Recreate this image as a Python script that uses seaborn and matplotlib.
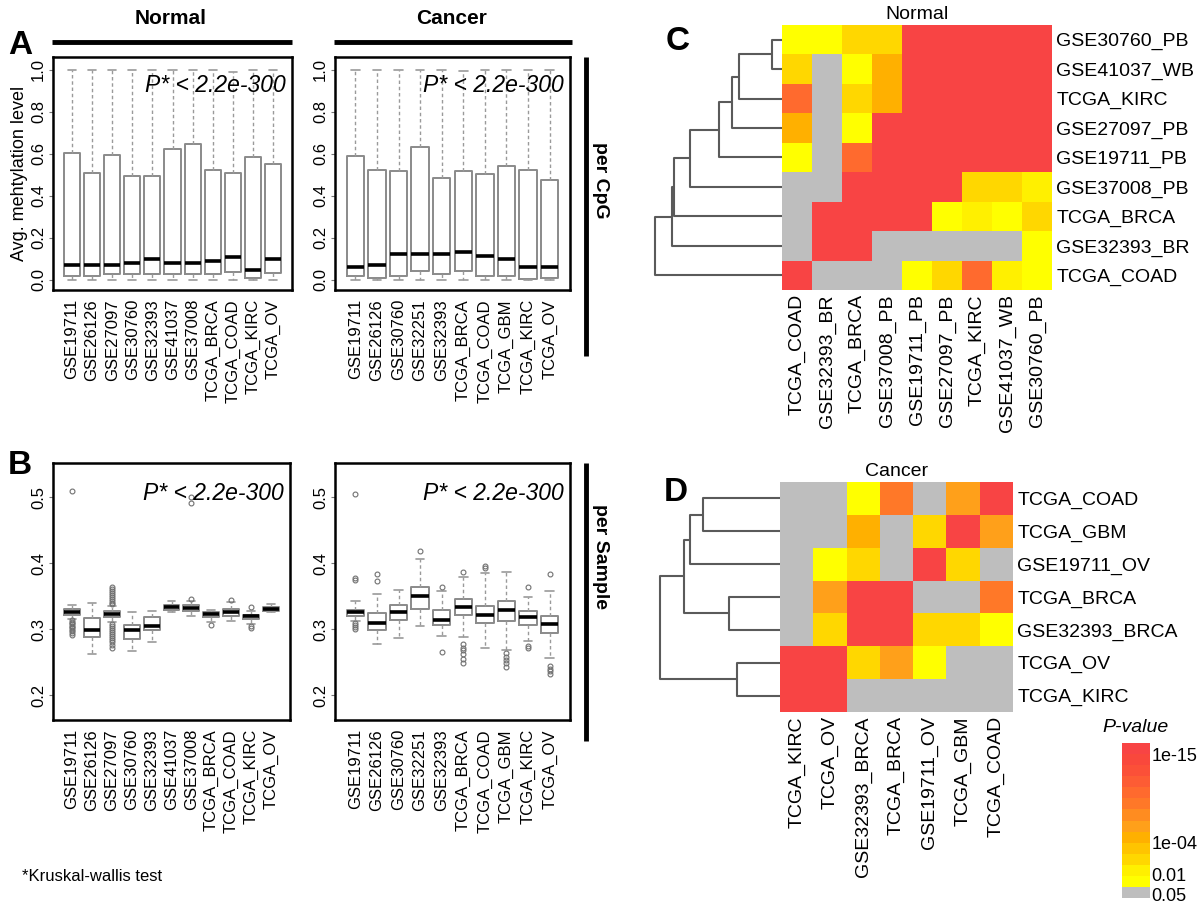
import numpy as np
import pandas as pd
import matplotlib
matplotlib.use('Agg')
import matplotlib.pyplot as plt
import seaborn as sns
from matplotlib.colors import ListedColormap, BoundaryNorm
from matplotlib.cm import ScalarMappable
from matplotlib.lines import Line2D

sns.set_style('white')
plt.rcParams['font.family'] = ['Liberation Sans', 'DejaVu Sans']
for k in ('text.color', 'axes.labelcolor', 'xtick.color', 'ytick.color'):
    plt.rcParams[k] = 'black'

# ---------------- data ----------------
# panel A: per CpG methylation, box stats
a_norm_sets = ['GSE19711', 'GSE26126', 'GSE27097', 'GSE30760', 'GSE32393', 'GSE41037',
               'GSE37008', 'TCGA_BRCA', 'TCGA_COAD', 'TCGA_KIRC', 'TCGA_OV']
a_norm_lo = [0.0, 0.0, 0.0, 0.0, 0.0, 0.0, 0.0, 0.0, 0.0, 0.0, 0.0]
a_norm_q1 = [0.016, 0.016, 0.024, 0.024, 0.024, 0.024, 0.024, 0.024, 0.035, 0.005, 0.032]
a_norm_med = [0.067, 0.067, 0.067, 0.080, 0.096, 0.077, 0.077, 0.088, 0.107, 0.046, 0.096]
a_norm_q3 = [0.603, 0.509, 0.592, 0.491, 0.491, 0.624, 0.646, 0.520, 0.509, 0.584, 0.552]
a_norm_hi = [1.0, 1.0, 1.0, 1.0, 1.0, 1.0, 1.0, 1.0, 0.99, 1.0, 1.0]

a_canc_sets = ['GSE19711', 'GSE26126', 'GSE30760', 'GSE32251', 'GSE32393', 'TCGA_BRCA',
               'TCGA_COAD', 'TCGA_GBM', 'TCGA_KIRC', 'TCGA_OV']
a_canc_lo = [0.0, 0.0, 0.0, 0.0, 0.0, 0.0, 0.0, 0.0, 0.0, 0.0]
a_canc_q1 = [0.016, 0.005, 0.016, 0.040, 0.024, 0.040, 0.016, 0.016, 0.002, 0.005]
a_canc_med = [0.059, 0.068, 0.122, 0.122, 0.122, 0.132, 0.111, 0.098, 0.059, 0.059]
a_canc_q3 = [0.587, 0.524, 0.516, 0.630, 0.484, 0.516, 0.505, 0.540, 0.524, 0.476]
a_canc_hi = [1.0, 1.0, 1.0, 1.0, 1.0, 0.995, 1.0, 1.0, 1.0, 1.0]

# panel B: per sample
b_norm_lo = [0.315, 0.262, 0.310, 0.267, 0.280, 0.326, 0.320, 0.311, 0.312, 0.308, 0.326]
b_norm_q1 = [0.321, 0.288, 0.318, 0.285, 0.298, 0.329, 0.327, 0.318, 0.320, 0.315, 0.327]
b_norm_med = [0.326, 0.298, 0.323, 0.298, 0.305, 0.333, 0.332, 0.323, 0.326, 0.320, 0.330]
b_norm_q3 = [0.330, 0.317, 0.327, 0.306, 0.318, 0.336, 0.336, 0.326, 0.330, 0.321, 0.333]
b_norm_hi = [0.336, 0.339, 0.335, 0.326, 0.327, 0.342, 0.342, 0.329, 0.341, 0.328, 0.338]
b_norm_out = [
    [0.510, 0.313, 0.311, 0.309, 0.307, 0.305, 0.303, 0.301, 0.299, 0.297, 0.294, 0.291],
    [],
    [0.364, 0.361, 0.358, 0.355, 0.352, 0.349, 0.346, 0.343, 0.340, 0.338,
     0.307, 0.304, 0.301, 0.298, 0.295, 0.292, 0.289, 0.286, 0.283, 0.280, 0.276, 0.272],
    [],
    [],
    [],
    [0.500, 0.492, 0.346],
    [0.306],
    [0.344],
    [0.334, 0.304, 0.302],
    [],
]

b_canc_lo = [0.312, 0.277, 0.286, 0.305, 0.289, 0.288, 0.271, 0.268, 0.282, 0.256]
b_canc_q1 = [0.320, 0.298, 0.314, 0.330, 0.306, 0.321, 0.309, 0.312, 0.306, 0.294]
b_canc_med = [0.326, 0.309, 0.326, 0.350, 0.314, 0.333, 0.321, 0.329, 0.318, 0.308]
b_canc_q3 = [0.329, 0.324, 0.336, 0.364, 0.329, 0.345, 0.335, 0.342, 0.327, 0.320]
b_canc_hi = [0.342, 0.353, 0.359, 0.406, 0.358, 0.379, 0.385, 0.386, 0.348, 0.358]
b_canc_out = [
    [0.505, 0.378, 0.374, 0.309, 0.306, 0.303, 0.300],
    [0.384, 0.373],
    [],
    [0.418],
    [0.364, 0.265],
    [0.386, 0.277, 0.272, 0.268, 0.262, 0.255, 0.248],
    [0.392, 0.395],
    [0.263, 0.258, 0.253, 0.248, 0.243],
    [0.364, 0.275, 0.272],
    [0.383, 0.244, 0.240, 0.236, 0.232],
]

# panel C / D: -log10(p) of pairwise tests
c_rows = ['GSE30760_PB', 'GSE41037_WB', 'TCGA_KIRC', 'GSE27097_PB', 'GSE19711_PB',
          'GSE37008_PB', 'TCGA_BRCA', 'GSE32393_BR', 'TCGA_COAD']
c_cols = c_rows[::-1]
c_vals = [
    [1.7, 1.7, 3.0, 3.0, 15.5, 15.5, 15.5, 15.5, 15.5],
    [3.0, 0.5, 1.7, 4.5, 15.5, 15.5, 15.5, 15.5, 15.5],
    [10.5, 0.5, 3.0, 4.5, 15.5, 15.5, 15.5, 15.5, 15.5],
    [4.5, 0.5, 1.7, 15.5, 15.5, 15.5, 15.5, 15.5, 15.5],
    [1.7, 0.5, 10.5, 15.5, 15.5, 15.5, 15.5, 15.5, 15.5],
    [0.5, 0.5, 15.5, 15.5, 15.5, 15.5, 3.0, 3.0, 2.3],
    [0.5, 15.5, 15.5, 15.5, 15.5, 1.7, 2.3, 1.7, 3.0],
    [0.5, 15.5, 15.5, 0.5, 0.5, 0.5, 0.5, 0.5, 1.7],
    [15.5, 0.5, 0.5, 0.5, 1.7, 3.0, 10.5, 2.3, 1.7],
]
# merges (a, b, height) in the row order above
c_merges = [(0, 1, 10), (9, 2, 42), (10, 3, 49), (11, 4, 62), (12, 5, 91),
            (13, 6, 106), (14, 7, 108), (15, 8, 125)]

d_rows = ['TCGA_COAD', 'TCGA_GBM', 'GSE19711_OV', 'TCGA_BRCA', 'GSE32393_BRCA',
          'TCGA_OV', 'TCGA_KIRC']
d_cols = d_rows[::-1]
d_vals = [
    [0.5, 0.5, 1.7, 9.0, 0.5, 6.2, 15.5],
    [0.5, 0.5, 4.5, 0.5, 3.0, 15.5, 6.2],
    [0.5, 1.7, 3.0, 0.5, 15.5, 3.0, 0.5],
    [0.5, 6.2, 15.5, 15.5, 0.5, 0.5, 9.0],
    [0.5, 3.0, 15.5, 15.5, 3.0, 3.0, 1.7],
    [15.5, 15.5, 3.0, 6.2, 1.7, 0.5, 0.5],
    [15.5, 15.5, 0.5, 0.5, 0.5, 0.5, 0.5],
]
d_merges = [(0, 1, 76), (7, 2, 89), (3, 4, 51), (8, 9, 95), (5, 6, 43), (10, 11, 119)]

# color scale
p_bounds = [0, 1.3, 2, 2.7, 3.3, 4, 5.5, 7, 8.5, 10, 11.5, 13, 14, 15, 16]
p_colors = ['#BEBEBE', '#FFFF00', '#FFF000', '#FFD700', '#FFC400', '#FFB000', '#FFA01A',
            '#FF8C20', '#FF7828', '#FF6A2E', '#FD5C34', '#FB5038', '#F9483C', '#F84444']
p_ticks = [0.45, 2.1, 4, 15]
p_ticklabels = ['0.05', '0.01', '1e-04', '1e-15']

# ---------------- figure ----------------
W, H = 1200, 905
fig = plt.figure(figsize=(12, 9.05), dpi=100)


def fax(l, t, r, b):
    return fig.add_axes([l / W, 1 - b / H, (r - l) / W, (b - t) / H])


def fig_text(x, y, s, **kw):
    fig.text(x / W, 1 - y / H, s, **kw)


def fig_line(xs, ys, lw):
    fig.add_artist(Line2D([x / W for x in xs], [1 - y / H for y in ys],
                          color='black', lw=lw, solid_capstyle='butt'))


def boxes(ax, names, lo, q1, med, q3, hi, out, ylim, yticks):
    stats = []
    for i in range(len(names)):
        stats.append(dict(whislo=lo[i], q1=q1[i], med=med[i], q3=q3[i], whishi=hi[i],
                          fliers=out[i] if out else []))
    ax.bxp(stats, positions=range(1, len(names) + 1), widths=0.8, showfliers=True,
           boxprops=dict(color='#8a8a8a', lw=1.4),
           medianprops=dict(color='black', lw=2.6, solid_capstyle='butt'),
           whiskerprops=dict(color='#9a9a9a', lw=1.0, ls=(0, (2.5, 2))),
           capprops=dict(color='#9a9a9a', lw=1.2),
           flierprops=dict(marker='o', ms=3.5, mfc='none', mec='#707070', mew=0.8))
    ax.set_xlim(1 - 0.94, len(names) + 0.94)
    ax.set_ylim(*ylim)
    ax.set_xticks(range(1, len(names) + 1))
    ax.set_xticklabels(names, rotation=90, fontsize=12)
    ax.set_yticks(yticks)
    ax.set_yticklabels(['%.1f' % v for v in yticks], rotation=90, va='center', fontsize=12)
    ax.tick_params(axis='y', left=True, length=3, width=0.8, color='#777777', pad=2)
    ax.tick_params(axis='x', bottom=False, pad=3)
    for s in ax.spines.values():
        s.set_visible(True)
        s.set_linewidth(1.8)
        s.set_color('black')


a_ticks = [0.0, 0.2, 0.4, 0.6, 0.8, 1.0]
b_ticks = [0.2, 0.3, 0.4, 0.5]

axA1 = fax(53, 57, 292, 290)
boxes(axA1, a_norm_sets, a_norm_lo, a_norm_q1, a_norm_med, a_norm_q3, a_norm_hi, None,
      (-0.05, 1.06), a_ticks)
axA1.set_ylabel('Avg. mehtylation level', fontsize=13, labelpad=2)
axA2 = fax(335, 57, 570, 290)
boxes(axA2, a_canc_sets, a_canc_lo, a_canc_q1, a_canc_med, a_canc_q3, a_canc_hi, None,
      (-0.05, 1.06), a_ticks)
axB1 = fax(53, 463, 290, 720)
boxes(axB1, a_norm_sets, b_norm_lo, b_norm_q1, b_norm_med, b_norm_q3, b_norm_hi, b_norm_out,
      (0.162, 0.552), b_ticks)
axB2 = fax(335, 463, 570, 720)
boxes(axB2, a_canc_sets, b_canc_lo, b_canc_q1, b_canc_med, b_canc_q3, b_canc_hi, b_canc_out,
      (0.162, 0.552), b_ticks)

for ax in (axA1, axA2, axB1, axB2):
    ax.text(0.975, 0.925, 'P* < 2.2e-300', transform=ax.transAxes, ha='right', va='top',
            fontsize=16.5, style='italic')

# headers and bars
fig_text(171, 18, 'Normal', ha='center', va='center', fontsize=15, fontweight='bold')
fig_text(452, 18, 'Cancer', ha='center', va='center', fontsize=15, fontweight='bold')
fig_line([52, 292], [42, 42], 3.5)
fig_line([334, 572], [42, 42], 3.5)
fig_line([586, 586], [57, 356], 3.5)
fig_line([586, 586], [463, 741], 3.5)
fig_text(600, 180, 'per CpG', ha='center', va='center', rotation=270, fontsize=14,
         fontweight='bold')
fig_text(600, 556, 'per Sample', ha='center', va='center', rotation=270, fontsize=14,
         fontweight='bold')
fig_text(22, 876, '*Kruskal-wallis test', ha='left', va='center', fontsize=12)
for lab, x, y in [('A', 20, 45), ('B', 20, 465), ('C', 678, 42), ('D', 676, 492)]:
    fig_text(x, y, lab, ha='center', va='center', fontsize=24, fontweight='bold')

# heatmaps
cmap = ListedColormap(p_colors)
norm = BoundaryNorm(p_bounds, cmap.N)


def heat(ax, rows, cols, vals, title):
    df = pd.DataFrame(vals, index=rows, columns=cols)
    sns.heatmap(df, cmap=cmap, norm=norm, cbar=False, ax=ax, linewidths=0,
                xticklabels=True, yticklabels=True)
    ax.yaxis.set_ticks_position('right')
    ax.tick_params(axis='y', labelright=True, labelleft=False, length=0, labelsize=14,
                   pad=3, rotation=0)
    ax.tick_params(axis='x', length=0, labelsize=14, pad=3, rotation=90)
    ax.set_xlabel('')
    ax.set_ylabel('')
    ax.set_title(title, fontsize=14, pad=4)


def dendro(ax, merges, n, hmax):
    pos = {i: (i + 0.5, 0.0) for i in range(n)}
    for k, (a, b, h) in enumerate(merges):
        ya, ha = pos[a]
        yb, hb = pos[b]
        ax.plot([ha, h, h, hb], [ya, ya, yb, yb], color='#5a5a5a', lw=1.5)
        pos[n + k] = ((ya + yb) / 2, h)
    ax.set_xlim(hmax, 0)
    ax.set_ylim(n, 0)
    ax.axis('off')


axC = fax(782, 25, 1052, 290)
heat(axC, c_rows, c_cols, c_vals, 'Normal')
axCd = fax(652, 25, 782, 290)
dendro(axCd, c_merges, len(c_rows), 128)

axD = fax(780, 482, 1013, 712)
heat(axD, d_rows, d_cols, d_vals, 'Cancer')
axDd = fax(658, 482, 780, 712)
dendro(axDd, d_merges, len(d_rows), 121)

cax = fax(1122, 743, 1150, 898)
cb = fig.colorbar(ScalarMappable(norm=norm, cmap=cmap), cax=cax, spacing='uniform',
                  ticks=p_ticks)
cb.set_ticklabels(p_ticklabels)
cb.outline.set_visible(False)
cax.minorticks_off()
cax.tick_params(which='both', length=0, labelsize=13, pad=1)
fig_text(1136, 727, 'P-value', ha='center', va='center', fontsize=14, style='italic')

fig.savefig('out.png', dpi=100)
